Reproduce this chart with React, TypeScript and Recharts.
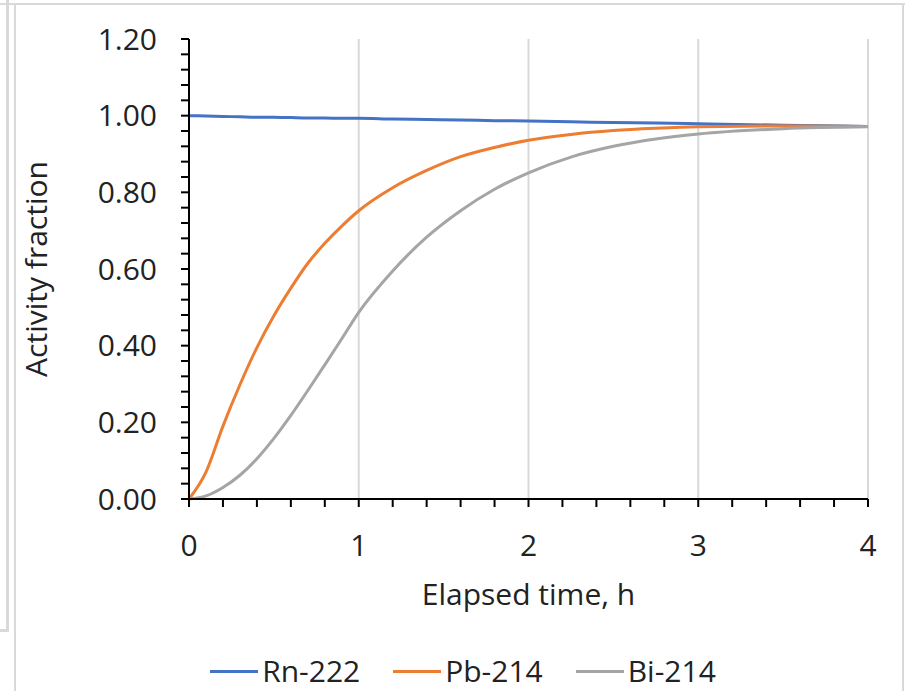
import React from "react";
import { LineChart, Line, XAxis, YAxis, CartesianGrid, Legend, Label } from "recharts";

// Elapsed time (h)
const times = [0, 0.1, 0.2, 0.3, 0.4, 0.5, 0.6, 0.7, 0.8, 0.9, 1.0, 1.2, 1.4, 1.6, 1.8, 2.0, 2.25, 2.5, 2.75, 3.0, 3.5, 4.0];
// Activity fractions
const rn222 = [1.0, 0.999, 0.998, 0.997, 0.996, 0.996, 0.995, 0.994, 0.994, 0.993, 0.993, 0.991, 0.99, 0.989, 0.987, 0.986, 0.984, 0.982, 0.981, 0.979, 0.975, 0.972];
const pb214 = [0, 0.07, 0.19, 0.298, 0.395, 0.478, 0.55, 0.615, 0.667, 0.712, 0.752, 0.812, 0.857, 0.893, 0.917, 0.936, 0.951, 0.961, 0.967, 0.971, 0.973, 0.972];
const bi214 = [0, 0.008, 0.03, 0.062, 0.105, 0.158, 0.218, 0.283, 0.35, 0.418, 0.487, 0.595, 0.683, 0.752, 0.808, 0.851, 0.892, 0.92, 0.939, 0.952, 0.966, 0.971];

const seriesNames = ["Rn-222", "Pb-214", "Bi-214"];
const seriesColors = ["#4472C4", "#ED7D31", "#A5A5A5"];

const xMajorTicks = [0, 1, 2, 3, 4];
const xMinorTicks = [0, 0.2, 0.4, 0.6, 0.8, 1, 1.2, 1.4, 1.6, 1.8, 2, 2.2, 2.4, 2.6, 2.8, 3, 3.2, 3.4, 3.6, 3.8, 4];
const yMajorTicks = [0, 0.2, 0.4, 0.6, 0.8, 1.0, 1.2];
const yMinorTicks = Array.from({ length: 31 }, (_, i) => Math.round(i * 4) / 100);

const data = times.map((t, i) => ({ t, rn: rn222[i], pb: pb214[i], bi: bi214[i] }));

const FONT = "'Open Sans', sans-serif";
const TEXT = "#222222";

const isMajor = (v: number, majors: number[]) => majors.some((m) => Math.abs(m - v) < 1e-6);

const XTick = (props: any) => {
  const { x, y, payload } = props;
  if (!isMajor(payload.value, xMajorTicks)) return <g />;
  return (
    <text x={x} y={y} dy="0.71em" textAnchor="middle" fill={TEXT} fontSize={30} fontFamily={FONT}>
      {String(payload.value)}
    </text>
  );
};

const YTick = (props: any) => {
  const { x, y, payload } = props;
  if (!isMajor(payload.value, yMajorTicks)) return <g />;
  return (
    <text x={x} y={y} dy="0.36em" textAnchor="end" fill={TEXT} fontSize={30} fontFamily={FONT}>
      {Number(payload.value).toFixed(2)}
    </text>
  );
};

const LegendContent = () => (
  <div
    style={{
      display: "flex",
      justifyContent: "center",
      alignItems: "center",
      height: 30,
      paddingLeft: 58,
      fontFamily: FONT,
      fontSize: 30,
      color: TEXT,
      gap: 33,
    }}
  >
    {seriesNames.map((n, i) => (
      <div key={n} style={{ display: "flex", alignItems: "center" }}>
        <div style={{ width: 48, height: 3, background: seriesColors[i], marginRight: 4 }} />
        <span style={{ lineHeight: "30px" }}>{n}</span>
      </div>
    ))}
  </div>
);

const frame = "#d9d9d9";

export default function App() {
  return (
    <div style={{ position: "fixed", left: 0, top: 0, width: 912, height: 691, background: "#fff", overflow: "hidden" }}>
      <div style={{ position: "absolute", left: 0, top: 3, width: 905, height: 2, background: frame }} />
      <div style={{ position: "absolute", left: 902, top: 3, width: 2, height: 688, background: frame }} />
      <div style={{ position: "absolute", left: 6, top: 0, width: 3, height: 632, background: frame }} />
      <div style={{ position: "absolute", left: 0, top: 629, width: 9, height: 3, background: frame }} />
      <div style={{ position: "absolute", left: 14, top: 3, width: 2, height: 688, background: frame }} />
      <div style={{ position: "absolute", left: 0, top: 0 }}>
        <LineChart width={912} height={691} data={data} margin={{ top: 39, right: 44, left: 0, bottom: 5 }}>
          <CartesianGrid horizontal={false} verticalValues={[1, 2, 3, 4]} stroke="#d9d9d9" strokeWidth={2} />
          <XAxis
            dataKey="t"
            type="number"
            domain={[0, 4]}
            ticks={xMinorTicks}
            interval={0}
            height={157}
            tickSize={8}
            tickMargin={28}
            axisLine={{ stroke: "#000", strokeWidth: 2 }}
            tickLine={{ stroke: "#000", strokeWidth: 2 }}
            tick={<XTick />}
          >
            <Label
              content={(p: any) => {
                const vb = p.viewBox;
                return (
                  <text x={vb.x + vb.width / 2} y={vb.y + 106} textAnchor="middle" fill={TEXT} fontSize={30} fontFamily={FONT}>
                    Elapsed time, h
                  </text>
                );
              }}
            />
          </XAxis>
          <YAxis
            type="number"
            domain={[0, 1.2]}
            ticks={yMinorTicks}
            interval={0}
            width={189}
            tickSize={8}
            tickMargin={24}
            axisLine={{ stroke: "#000", strokeWidth: 2 }}
            tickLine={{ stroke: "#000", strokeWidth: 2 }}
            tick={<YTick />}
          >
            <Label
              content={(p: any) => {
                const vb = p.viewBox;
                const cx = vb.x + 36;
                const cy = vb.y + vb.height / 2;
                return (
                  <text
                    x={cx}
                    y={cy}
                    transform={`rotate(-90 ${cx} ${cy})`}
                    textAnchor="middle"
                    dy="0.36em"
                    fill={TEXT}
                    fontSize={30}
                    fontFamily={FONT}
                  >
                    Activity fraction
                  </text>
                );
              }}
            />
          </YAxis>
          <Legend verticalAlign="bottom" content={<LegendContent />} />
          <Line dataKey="rn" name={seriesNames[0]} type="monotone" stroke={seriesColors[0]} strokeWidth={3} dot={false} isAnimationActive={false} />
          <Line dataKey="pb" name={seriesNames[1]} type="monotone" stroke={seriesColors[1]} strokeWidth={3} dot={false} isAnimationActive={false} />
          <Line dataKey="bi" name={seriesNames[2]} type="monotone" stroke={seriesColors[2]} strokeWidth={3} dot={false} isAnimationActive={false} />
        </LineChart>
      </div>
    </div>
  );
}
